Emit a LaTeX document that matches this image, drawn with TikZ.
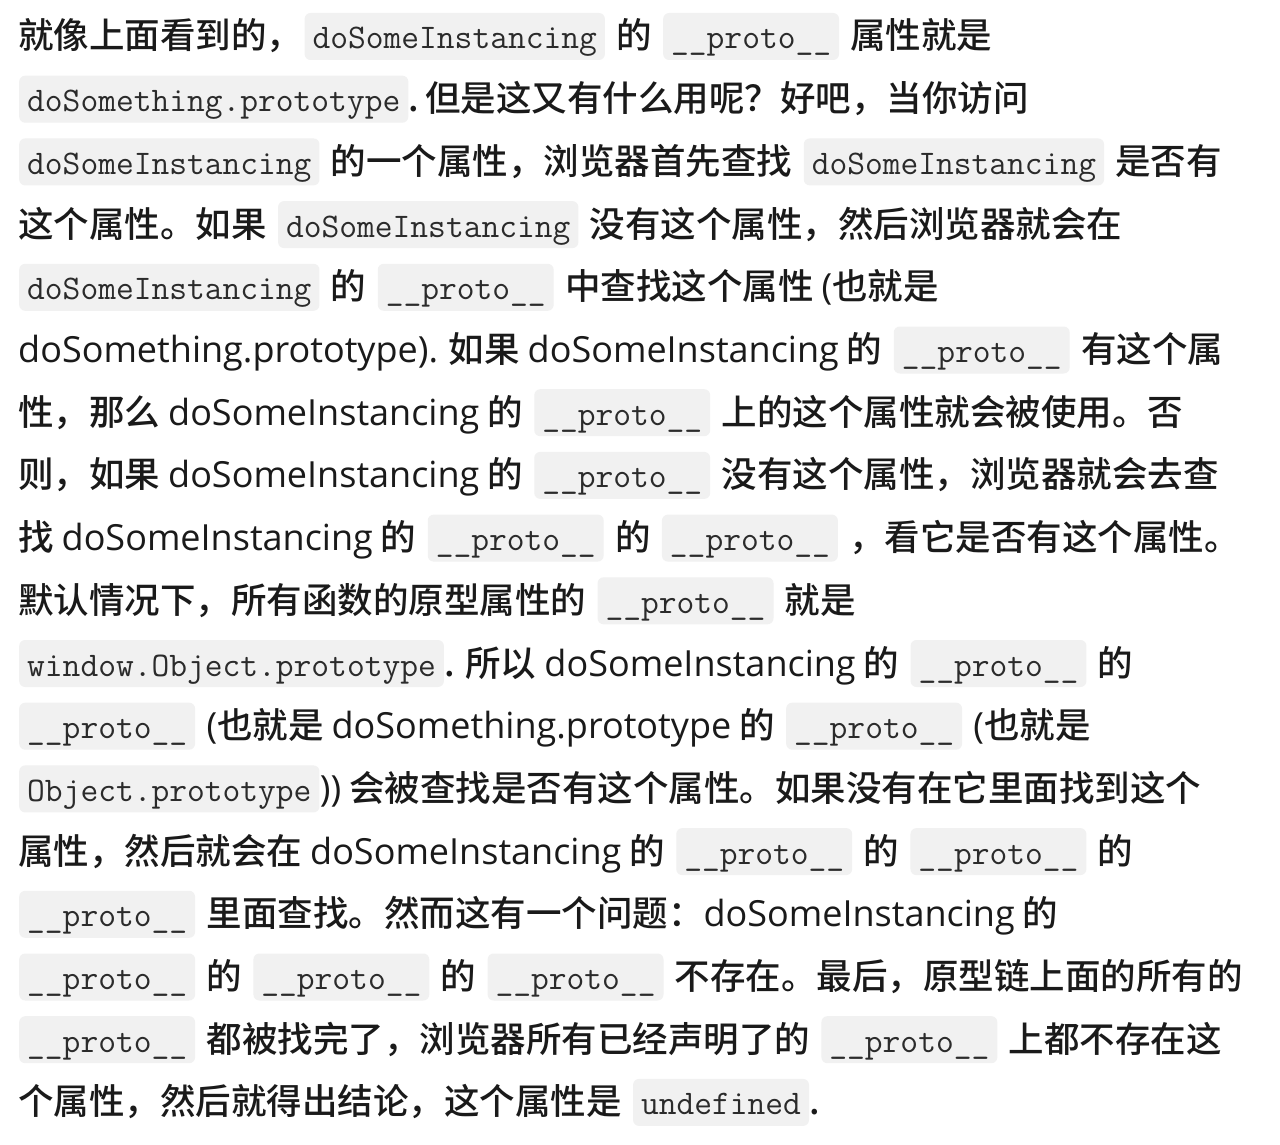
\documentclass[tikz,border=0pt]{standalone}
\usepackage{fontspec}
\usepackage{xcolor}
\usepackage{tikz}
\usetikzlibrary{positioning}
\setmainfont{Noto Sans CJK SC Medium}
\newfontfamily\latf{Open Sans}
\setmonofont{Latin Modern Mono}
\definecolor{prose}{HTML}{1A1A1A}
\definecolor{codefg}{HTML}{2B2B2B}
\definecolor{codebg}{HTML}{F1F1F1}
\newcommand{\en}[1]{{\latf\fontsize{36}{40}\selectfont #1}}

\begin{document}
\begin{tikzpicture}[
        x=1pt, y=-1pt,
        node distance = 11pt,
        txt/.style  = {inner sep=0pt, text=prose, font=\fontsize{35.5}{40}\selectfont},
        code/.style = {fill=codebg, rounded corners=6pt, inner xsep=8pt, inner ysep=8pt,
                       text height=28pt, text depth=3pt, text=codefg,
                       font=\fontsize{34.5}{40}\ttfamily},
        first/.style = {anchor=base west}
    ]
    \path[use as bounding box, fill=white] (0,0) rectangle (1280,1145);

    % line 1
    \node[txt, first]  (r1a) at (18,49) {就像上面看到的，};
    \node[code, base right=2pt of r1a] (r1b) {doSomeInstancing};
    \node[txt,  base right=of r1b] (r1c) {的};
    \node[code, base right=of r1c] (r1d) {\_\_proto\_\_};
    \node[txt,  base right=of r1d] (r1e) {属性就是};

    % line 2
    \node[code, first] (r2a) at (19,111.7) {doSomething.prototype};
    \node[txt,  base right=0pt of r2a] (r2b) {.\hspace{6pt}但是这又有什么用呢？好吧，当你访问};

    % line 3
    \node[code, first] (r3a) at (19,174.4) {doSomeInstancing};
    \node[txt,  base right=of r3a] (r3b) {的一个属性，浏览器首先查找};
    \node[code, base right=of r3b] (r3c) {doSomeInstancing};
    \node[txt,  base right=of r3c] (r3d) {是否有};

    % line 4
    \node[txt, first]  (r4a) at (18,237.1) {这个属性。如果};
    \node[code, base right=of r4a] (r4b) {doSomeInstancing};
    \node[txt,  base right=of r4b] (r4c) {没有这个属性，然后浏览器就会在};

    % line 5
    \node[code, first] (r5a) at (19,299.8) {doSomeInstancing};
    \node[txt,  base right=of r5a] (r5b) {的};
    \node[code, base right=of r5b] (r5c) {\_\_proto\_\_};
    \node[txt,  base right=of r5c] (r5d) {中查找这个属性 \en{(}也就是};

    % line 6
    \node[txt, first]  (r6a) at (18,362.5) {\en{doSomething.prototype).} 如果 \en{doSomeInstancing} 的};
    \node[code, base right=of r6a] (r6b) {\_\_proto\_\_};
    \node[txt,  base right=of r6b] (r6c) {有这个属};

    % line 7
    \node[txt, first]  (r7a) at (18,425.2) {性，那么 \en{doSomeInstancing} 的};
    \node[code, base right=of r7a] (r7b) {\_\_proto\_\_};
    \node[txt,  base right=of r7b] (r7c) {上的这个属性就会被使用。否};

    % line 8
    \node[txt, first]  (r8a) at (18,487.9) {则，如果 \en{doSomeInstancing} 的};
    \node[code, base right=of r8a] (r8b) {\_\_proto\_\_};
    \node[txt,  base right=of r8b] (r8c) {没有这个属性，浏览器就会去查};

    % line 9
    \node[txt, first]  (r9a) at (18,550.6) {找 \en{doSomeInstancing} 的};
    \node[code, base right=of r9a] (r9b) {\_\_proto\_\_};
    \node[txt,  base right=of r9b] (r9c) {的};
    \node[code, base right=of r9c] (r9d) {\_\_proto\_\_};
    \node[txt,  base right=of r9d] (r9e) {，看它是否有这个属性。};

    % line 10
    \node[txt, first]  (r10a) at (18,613.3) {默认情况下，所有函数的原型属性的};
    \node[code, base right=of r10a] (r10b) {\_\_proto\_\_};
    \node[txt,  base right=of r10b] (r10c) {就是};

    % line 11
    \node[code, first] (r11a) at (19,676) {window.Object.prototype};
    \node[txt,  base right=0pt of r11a] (r11b) {. 所以 \en{doSomeInstancing} 的};
    \node[code, base right=of r11b] (r11c) {\_\_proto\_\_};
    \node[txt,  base right=of r11c] (r11d) {的};

    % line 12
    \node[code, first] (r12a) at (19,738.7) {\_\_proto\_\_};
    \node[txt,  base right=of r12a] (r12b) {\en{(}也就是 \en{doSomething.prototype} 的};
    \node[code, base right=of r12b] (r12c) {\_\_proto\_\_};
    \node[txt,  base right=of r12c] (r12d) {\en{(}也就是};

    % line 13
    \node[code, first] (r13a) at (19,801.4) {Object.prototype};
    \node[txt,  base right=0pt of r13a] (r13b) {\en{))} 会被查找是否有这个属性。如果没有在它里面找到这个};

    % line 14
    \node[txt, first]  (r14a) at (18,864.1) {属性，然后就会在 \en{doSomeInstancing} 的};
    \node[code, base right=of r14a] (r14b) {\_\_proto\_\_};
    \node[txt,  base right=of r14b] (r14c) {的};
    \node[code, base right=of r14c] (r14d) {\_\_proto\_\_};
    \node[txt,  base right=of r14d] (r14e) {的};

    % line 15
    \node[code, first] (r15a) at (19,926.8) {\_\_proto\_\_};
    \node[txt,  base right=of r15a] (r15b) {里面查找。然而这有一个问题：\en{doSomeInstancing} 的};

    % line 16
    \node[code, first] (r16a) at (19,989.5) {\_\_proto\_\_};
    \node[txt,  base right=of r16a] (r16b) {的};
    \node[code, base right=of r16b] (r16c) {\_\_proto\_\_};
    \node[txt,  base right=of r16c] (r16d) {的};
    \node[code, base right=of r16d] (r16e) {\_\_proto\_\_};
    \node[txt,  base right=of r16e] (r16f) {不存在。最后，原型链上面的所有的};

    % line 17
    \node[code, first] (r17a) at (19,1052.2) {\_\_proto\_\_};
    \node[txt,  base right=of r17a] (r17b) {都被找完了，浏览器所有已经声明了的};
    \node[code, base right=of r17b] (r17c) {\_\_proto\_\_};
    \node[txt,  base right=of r17c] (r17d) {上都不存在这};

    % line 18
    \node[txt, first]  (r18a) at (18,1114.9) {个属性，然后就得出结论，这个属性是};
    \node[code, base right=of r18a] (r18b) {undefined};
    \node[txt,  base right=0pt of r18b] (r18c) {.};

\end{tikzpicture}
\end{document}
